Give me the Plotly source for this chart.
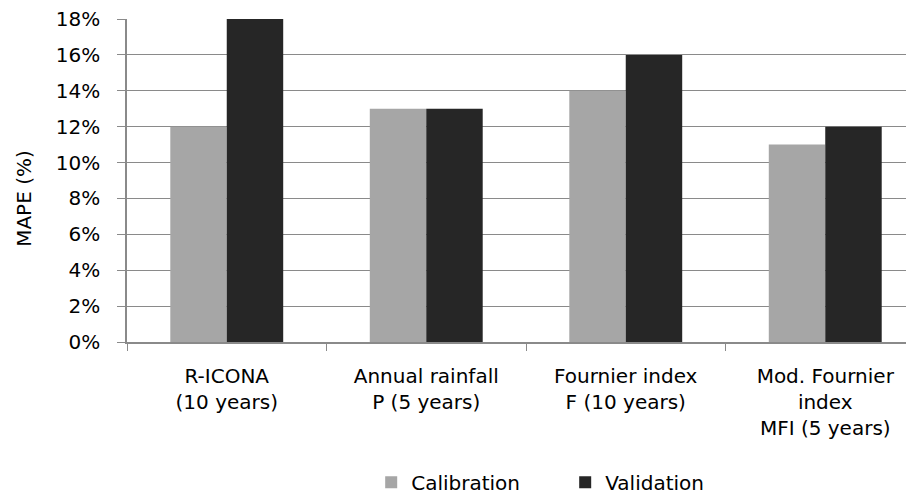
import plotly.graph_objects as go

categories = ["R-ICONA<br>(10 years)", "Annual rainfall<br>P (5 years)",
              "Fournier index<br>F (10 years)", "Mod. Fournier<br>index<br>MFI (5 years)"]
calibration = [0.12, 0.13, 0.14, 0.11]
validation = [0.18, 0.13, 0.16, 0.12]

FONT = "DejaVu Sans"
FS = 20
fig = go.Figure()
fig.add_trace(go.Bar(x=categories, y=calibration, name="Calibration",
                     marker=dict(color="#a6a6a6", line=dict(width=0))))
fig.add_trace(go.Bar(x=categories, y=validation, name="Validation",
                     marker=dict(color="#262626", line=dict(width=0))))

fig.update_layout(
    width=920, height=487,
    margin=dict(l=119, r=3, t=11, b=153, autoexpand=False),
    paper_bgcolor="white", plot_bgcolor="white",
    font=dict(family=FONT, size=FS, color="#000000"),
    barmode="group", bargap=0.434, bargroupgap=0,
    showlegend=True,
    legend=dict(orientation="h", x=0.306, xanchor="left", y=-0.434, yanchor="middle",
                entrywidth=149, entrywidthmode="pixels",
                font=dict(family=FONT, size=FS), itemwidth=30),
    annotations=[dict(text="MAPE (%)", textangle=-90, xref="paper", yref="paper",
                      x=-0.130, y=0.444, xanchor="center", yanchor="middle",
                      showarrow=False, font=dict(family=FONT, size=FS))],
)
fig.update_xaxes(
    type="category", showline=True, linecolor="#8a8a8a", linewidth=1.5,
    ticks="outside", ticklen=7, tickcolor="#8a8a8a", tickson="boundaries",
    showgrid=False, ticklabelstandoff=15,
)
fig.update_yaxes(
    range=[0, 0.18], dtick=0.02, tickformat=".0%",
    showline=True, linecolor="#8a8a8a", linewidth=1.5,
    ticks="outside", ticklen=8, tickcolor="#8a8a8a",
    showgrid=True, gridcolor="#8a8a8a", gridwidth=1.2, zeroline=False,
    ticklabelstandoff=13, ticklabeloverflow="allow",
)
fig.write_html("out.html")
